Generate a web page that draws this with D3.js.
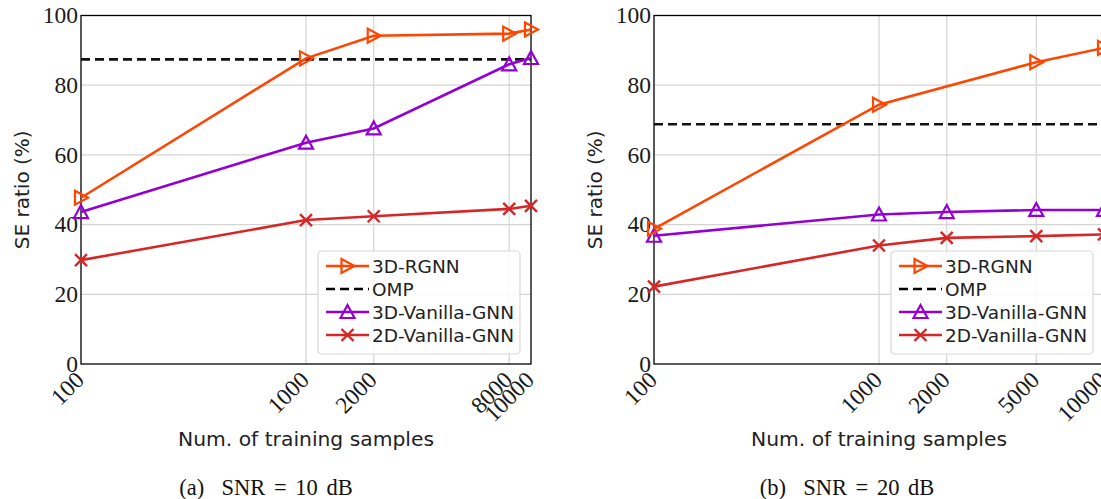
<!DOCTYPE html>
<html>
<head>
<meta charset="utf-8">
<script src="https://cdn.jsdelivr.net/npm/d3@7"></script>
<style>
  body { margin: 0; background: #fff; }
  svg { display: block; }
</style>
</head>
<body>
<script>
// data
const samplesA = [100, 1000, 2000, 8000, 10000];
const samplesB = [100, 1000, 2000, 5000, 10000];
const ticksA = ["100", "1000", "2000", "8000", "10000"];
const ticksB = ["100", "1000", "2000", "5000", "10000"];
const yTicks = [0, 20, 40, 60, 80, 100];
const seriesNames = ["3D-RGNN", "OMP", "3D-Vanilla-GNN", "2D-Vanilla-GNN"];

const rgnnA = [47.7, 87.7, 94.2, 94.8, 96.0];
const ompA = 87.4;
const vanilla3dA = [43.6, 63.5, 67.6, 86.0, 87.8];
const vanilla2dA = [29.8, 41.3, 42.4, 44.5, 45.4];

const rgnnSamplesB = [100, 1000, 5000, 10000];
const rgnnB = [38.8, 74.4, 86.6, 90.7];
const ompB = 68.8;
const vanilla3dB = [36.8, 42.9, 43.6, 44.2, 44.2];
const vanilla2dB = [22.2, 34.0, 36.2, 36.7, 37.2];

const colors = {"3D-RGNN": "#ff4500", "OMP": "#000000", "3D-Vanilla-GNN": "#9400d3", "2D-Vanilla-GNN": "#d62728"};

const W = 1101, H = 499;
const plotTop = 15.5, plotBottom = 364;

const svg = d3.select("body").append("svg")
    .attr("width", W).attr("height", H);

const serif = "'Liberation Serif', 'Times New Roman', serif";
const sans = "'DejaVu Sans', sans-serif";

function marker(g, type, color) {
  if (type === "tri-right") {
    g.append("path").attr("d", "M-6,-7L7,0L-6,7Z")
      .attr("fill", "none").attr("stroke", color).attr("stroke-width", 2.2)
      .attr("stroke-linejoin", "miter");
  } else if (type === "tri-up") {
    g.append("path").attr("d", "M0,-7L7,6L-7,6Z")
      .attr("fill", "none").attr("stroke", color).attr("stroke-width", 2.2)
      .attr("stroke-linejoin", "miter");
  } else if (type === "x") {
    g.append("path").attr("d", "M-6,-6L6,6M-6,6L6,-6")
      .attr("fill", "none").attr("stroke", color).attr("stroke-width", 2.4);
  }
}

function panel(opt) {
  const x = d3.scaleLog().domain([100, 10000]).range([opt.x0, opt.x0 + 450]);
  const y = d3.scaleLinear().domain([0, 100]).range([plotBottom, plotTop]);
  const g = svg.append("g");

  // grid
  g.append("g").selectAll("line").data(yTicks.slice(1, -1)).join("line")
      .attr("x1", x(100)).attr("x2", x(10000))
      .attr("y1", d => y(d)).attr("y2", d => y(d))
      .attr("stroke", "#d4d4d4").attr("stroke-width", 1.2);
  g.append("g").selectAll("line").data(opt.samples.slice(1, -1)).join("line")
      .attr("x1", d => x(d)).attr("x2", d => x(d))
      .attr("y1", plotTop).attr("y2", plotBottom)
      .attr("stroke", "#d4d4d4").attr("stroke-width", 1.2);

  // frame
  g.append("rect")
      .attr("x", x(100)).attr("y", plotTop)
      .attr("width", x(10000) - x(100)).attr("height", plotBottom - plotTop)
      .attr("fill", "none").attr("stroke", "#000").attr("stroke-width", 1.3);

  // y tick labels
  g.append("g").selectAll("text").data(yTicks).join("text")
      .attr("x", x(100) - 3).attr("y", d => y(d)).attr("dy", "0.33em")
      .attr("text-anchor", "end")
      .attr("font-family", serif).attr("font-size", 23.5).attr("fill", "#1a1a1a")
      .text(d => d);

  // x tick labels, rotated
  g.append("g").selectAll("text").data(opt.samples).join("text")
      .attr("transform", d => `translate(${x(d) - 1},${plotBottom + 12}) rotate(-45)`)
      .attr("dy", "0.33em")
      .attr("text-anchor", "end")
      .attr("font-family", serif).attr("font-size", 23.5).attr("fill", "#1a1a1a")
      .text((d, i) => opt.tickLabels[i]);

  // axis titles
  g.append("text")
      .attr("transform", `translate(${x(100) - 59},${(plotTop + plotBottom) / 2}) rotate(-90)`)
      .attr("text-anchor", "middle").attr("dy", "0.35em")
      .attr("font-family", sans).attr("font-size", 20).attr("fill", "#222")
      .text("SE ratio (%)");
  g.append("text")
      .attr("x", x(1000)).attr("y", 446)
      .attr("text-anchor", "middle")
      .attr("font-family", sans).attr("font-size", 20.3).attr("fill", "#222")
      .text("Num. of training samples");

  // caption
  g.append("text")
      .attr("x", opt.captionX).attr("y", 495)
      .attr("text-anchor", "middle")
      .attr("font-family", serif).attr("font-size", 22.5).attr("fill", "#111")
      .attr("word-spacing", 3)
      .attr("xml:space", "preserve")
      .text(opt.caption);

  const line = d3.line().x(d => x(d[0])).y(d => y(d[1]));

  // OMP flat line
  g.append("line")
      .attr("x1", x(100)).attr("x2", x(10000))
      .attr("y1", y(opt.omp)).attr("y2", y(opt.omp))
      .attr("stroke", "#111").attr("stroke-width", 2.6)
      .attr("stroke-dasharray", "9,5");

  const series = [
    {name: "2D-Vanilla-GNN", xs: opt.samples, ys: opt.v2d, m: "x"},
    {name: "3D-Vanilla-GNN", xs: opt.samples, ys: opt.v3d, m: "tri-up"},
    {name: "3D-RGNN", xs: opt.rgnnX, ys: opt.rgnn, m: "tri-right"}
  ];
  series.forEach(s => {
    const pts = s.xs.map((v, i) => [v, s.ys[i]]);
    g.append("path").datum(pts)
        .attr("d", line).attr("fill", "none")
        .attr("stroke", colors[s.name]).attr("stroke-width", 2.6);
    g.append("g").selectAll("g").data(pts).join("g")
        .attr("transform", d => `translate(${x(d[0])},${y(d[1])})`)
        .each(function() { marker(d3.select(this), s.m, colors[s.name]); });
  });

  // legend
  const lg = svg.append("g").attr("transform", `translate(${opt.legendX},251)`);
  lg.append("rect").attr("width", 202).attr("height", 103).attr("rx", 4)
      .attr("fill", "#fff").attr("fill-opacity", 0.85)
      .attr("stroke", "#d8d8d8").attr("stroke-width", 1.2);
  const kinds = {"3D-RGNN": "tri-right", "OMP": null, "3D-Vanilla-GNN": "tri-up", "2D-Vanilla-GNN": "x"};
  seriesNames.forEach((name, i) => {
    const row = lg.append("g").attr("transform", `translate(0,${15 + i * 23})`);
    row.append("line").attr("x1", 8).attr("x2", 51)
        .attr("stroke", colors[name]).attr("stroke-width", 2.6)
        .attr("stroke-dasharray", name === "OMP" ? "9,5" : null);
    if (kinds[name]) {
      const mg = row.append("g").attr("transform", "translate(29.5,0)");
      marker(mg, kinds[name], colors[name]);
    }
    row.append("text").attr("x", 54).attr("dy", "0.36em")
        .attr("font-family", sans).attr("font-size", 18.5).attr("fill", "#222")
        .text(name);
  });
}

panel({
  x0: 81, samples: samplesA, tickLabels: ticksA,
  rgnnX: samplesA, rgnn: rgnnA, omp: ompA, v3d: vanilla3dA, v2d: vanilla2dA,
  legendX: 318, captionX: 266, caption: "(a)  SNR = 10 dB"
});
panel({
  x0: 654, samples: samplesB, tickLabels: ticksB,
  rgnnX: rgnnSamplesB, rgnn: rgnnB, omp: ompB, v3d: vanilla3dB, v2d: vanilla2dB,
  legendX: 891, captionX: 847, caption: "(b)  SNR = 20 dB"
});
</script>
</body>
</html>
